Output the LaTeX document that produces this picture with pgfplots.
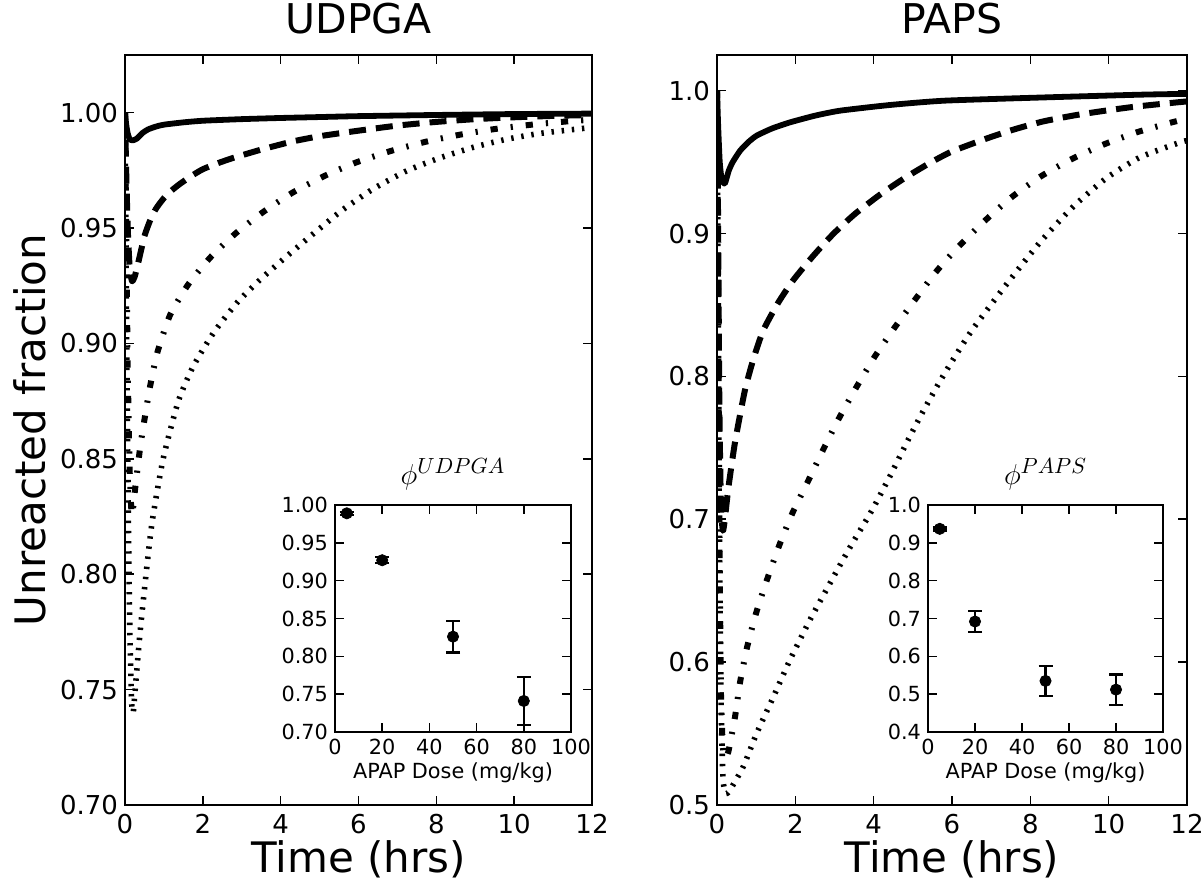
\documentclass[border=0pt]{standalone}
\usepackage{fontspec}
\setmainfont{DejaVu Sans}
\usepackage{pgfplots}
\usepackage{pgfplotstable}
\pgfplotsset{compat=1.18}

\pgfplotstableread{
t v
0 1.000
0.03 0.995
0.07 0.991
0.12 0.9885
0.2 0.9880
0.3 0.9887
0.45 0.9912
0.6 0.9928
0.8 0.9940
1.0 0.9948
1.5 0.9958
2.0 0.9965
3.0 0.9972
4.0 0.9977
5.0 0.9981
6.0 0.9985
8.0 0.9990
10.0 0.9994
12.0 0.9996
}\Aone
\pgfplotstableread{
t v
0 1.0
0.03 0.975
0.07 0.950
0.12 0.933
0.18 0.927
0.25 0.929
0.34 0.935
0.5 0.9465
0.65 0.9535
0.8 0.9585
1.0 0.9630
1.2 0.9663
1.4 0.9690
1.7 0.9725
2.0 0.9755
2.4 0.9782
2.8 0.9805
3.5 0.9840
4.3 0.9875
5.0 0.9898
6.0 0.9922
7.0 0.9944
8.0 0.9960
9.0 0.9972
10.0 0.9980
11.0 0.9986
12.0 0.9990
}\Atwo
\pgfplotstableread{
t v
0 1.0
0.03 0.95
0.07 0.89
0.12 0.845
0.17 0.826
0.21 0.829
0.26 0.837
0.39 0.855
0.5 0.867
0.64 0.881
0.83 0.8960
1.16 0.9124
1.63 0.9257
2.2 0.9374
2.85 0.9478
3.57 0.9572
4.32 0.9655
5.14 0.9727
5.95 0.9785
6.85 0.9835
7.73 0.9874
8.62 0.9905
9.5 0.9929
10.45 0.9948
11.35 0.9962
12 0.9970
}\Athree
\pgfplotstableread{
t v
0 1.0
0.03 0.93
0.07 0.85
0.12 0.78
0.17 0.745
0.21 0.740
0.257 0.749
0.385 0.7744
0.56 0.803
0.7 0.823
0.98 0.850
1.37 0.8750
1.75 0.890
2.27 0.9045
2.87 0.9175
3.47 0.9276
4.15 0.9377
4.93 0.9488
5.6 0.9580
6.38 0.9670
7.24 0.9748
8.09 0.9804
8.95 0.9850
9.81 0.9885
10.66 0.9910
11.78 0.9932
12 0.9936
}\Afour
\pgfplotstableread{
t v
0 1.0
0.03 0.975
0.07 0.950
0.12 0.938
0.2 0.935
0.3 0.944
0.4 0.950
0.59 0.958
0.8 0.964
1.01 0.9685
1.4 0.9735
1.86 0.9778
2.5 0.9825
3.14 0.9860
4.42 0.9900
5.8 0.9930
8.25 0.9952
10.8 0.9972
12 0.9978
}\Bone
\pgfplotstableread{
t v
0 1.0
0.03 0.90
0.06 0.78
0.1 0.71
0.15 0.692
0.2 0.700
0.29 0.722
0.46 0.754
0.71 0.790
0.93 0.8123
1.18 0.8322
1.56 0.8515
1.95 0.8675
2.46 0.8845
2.97 0.8998
3.52 0.9137
4.16 0.9272
4.8 0.9390
5.44 0.9495
6.0 0.9575
6.88 0.9665
7.61 0.9731
8.33 0.9785
9.14 0.9828
9.91 0.9860
10.67 0.9888
11.48 0.9911
12 0.9925
}\Btwo
\pgfplotstableread{
t v
0 1.0
0.03 0.85
0.06 0.70
0.1 0.58
0.15 0.540
0.2 0.533
0.29 0.5373
0.46 0.5617
0.59 0.5862
0.77 0.6107
1.0 0.6345
1.28 0.658
1.59 0.6818
1.92 0.704
2.33 0.727
2.71 0.7487
3.1 0.770
3.57 0.793
4.03 0.814
4.53 0.834
5.05 0.8535
5.57 0.8725
6.1 0.8890
6.8 0.9080
7.5 0.9250
8.26 0.9399
9.06 0.9522
9.86 0.9622
10.72 0.9709
11.61 0.9778
12 0.9805
}\Bthree
\pgfplotstableread{
t v
0 1.0
0.03 0.85
0.06 0.70
0.1 0.58
0.15 0.520
0.22 0.508
0.33 0.5105
0.67 0.5268
1.01 0.550
1.44 0.5757
1.86 0.6014
2.37 0.6294
2.88 0.655
3.4 0.6806
3.95 0.706
4.45 0.732
4.85 0.754
5.25 0.775
5.7 0.797
6.1 0.815
6.54 0.8335
7.4 0.8648
8.25 0.8940
9.1 0.9190
9.95 0.9390
10.8 0.9534
11.82 0.9638
12 0.9650
}\Bfour
\pgfplotstableread{
x y e
5 0.989 0.002
20 0.927 0.004
50 0.826 0.021
80 0.741 0.032
}\Ains
\pgfplotstableread{
x y e
5 0.937 0.004
20 0.692 0.028
50 0.535 0.040
80 0.512 0.040
}\Bins

\pgfplotsset{
  mainax/.style={
    scale only axis, anchor=south west,
    height=375pt,
    xmin=0, xmax=12, xtick={0,2,...,12},
    axis line style={line width=1pt},
    every tick/.style={black, line width=0.8pt},
    major tick length=4.5pt,
    tick align=inside, tick pos=both,
    tick label style={font=\fontsize{13}{15}\selectfont},
    xticklabel style={yshift=-1pt},
    /pgf/number format/assume math mode=true,
    title style={font=\fontsize{20.5}{24}\selectfont, yshift=1pt},
    xlabel style={font=\fontsize{21}{25}\selectfont, yshift=3.5pt},
    ylabel style={font=\fontsize{21}{25}\selectfont},
  },
  inax/.style={
    scale only axis, anchor=south west,
    height=113.5pt,
    xmin=0, xmax=100, xtick={0,20,...,100},
    axis background/.style={fill=white},
    axis line style={line width=1.4pt},
    every tick/.style={black, line width=0.8pt},
    major tick length=4.5pt,
    tick align=inside, tick pos=both,
    tick label style={font=\fontsize{10.4}{12}\selectfont},
    /pgf/number format/assume math mode=true,
    xlabel style={font=\fontsize{10.4}{12}\selectfont, yshift=3pt},
    title style={font=\fontsize{15.5}{18}\selectfont, yshift=-2pt},
  },
  c1/.style={black, line width=2.9pt, solid, line cap=butt, line join=round, smooth, tension=0.35},
  c2/.style={black, line width=3pt, line cap=butt, line join=round, smooth, tension=0.35, dash pattern=on 8.5pt off 5pt},
  c3/.style={black, line width=3pt, line cap=butt, line join=round, smooth, tension=0.35, dash pattern=on 3.6pt off 6.5pt on 1.1pt off 6.5pt},
  c4/.style={black, line width=2.8pt, line cap=butt, line join=round, smooth, tension=0.35, dash pattern=on 1.2pt off 3.9pt},
  inpts/.style={black, only marks, mark=*, mark size=2.8pt,
    error bars/.cd, y dir=both, y explicit,
    error bar style={line width=1.2pt},
    error mark options={rotate=90, line width=1.2pt, mark size=3.5pt}},
}

\begin{document}
\begin{tikzpicture}
\useasboundingbox (0,0) rectangle (601pt,443pt);

% ---- left main ----
\begin{axis}[mainax, at={(62.5pt,40.5pt)}, width=233.5pt,
  ymin=0.70, ymax=1.025, ytick={0.70,0.75,...,1.001},
  yticklabel style={/pgf/number format/.cd, fixed, fixed zerofill, precision=2},
  title={UDPGA}, xlabel={Time (hrs)}, ylabel={Unreacted fraction}]
\addplot[c4] table[x=t,y=v] {\Afour};
\addplot[c3] table[x=t,y=v] {\Athree};
\addplot[c2] table[x=t,y=v] {\Atwo};
\addplot[c1] table[x=t,y=v] {\Aone};
\end{axis}

% ---- right main ----
\begin{axis}[mainax, at={(358.5pt,40.5pt)}, width=235pt,
  ymin=0.5, ymax=1.025, ytick={0.5,0.6,...,1.001},
  yticklabel style={/pgf/number format/.cd, fixed, fixed zerofill, precision=1},
  title={PAPS}, xlabel={Time (hrs)}]
\addplot[c4] table[x=t,y=v] {\Bfour};
\addplot[c3] table[x=t,y=v] {\Bthree};
\addplot[c2] table[x=t,y=v] {\Btwo};
\addplot[c1] table[x=t,y=v] {\Bone};
\end{axis}

% ---- left inset ----
\begin{axis}[inax, at={(167.5pt,77pt)}, width=118pt,
  ymin=0.70, ymax=1.00, ytick={0.70,0.75,...,1.001},
  yticklabel style={/pgf/number format/.cd, fixed, fixed zerofill, precision=2},
  title={$\phi^{UDPGA}$}, xlabel={APAP Dose (mg/kg)}]
\addplot[inpts] table[x=x,y=y,y error=e] {\Ains};
\end{axis}

% ---- right inset ----
\begin{axis}[inax, at={(464pt,77pt)}, width=117.5pt,
  ymin=0.4, ymax=1.0, ytick={0.4,0.5,...,1.001},
  yticklabel style={/pgf/number format/.cd, fixed, fixed zerofill, precision=1},
  title={$\phi^{PAPS}$}, xlabel={APAP Dose (mg/kg)}]
\addplot[inpts] table[x=x,y=y,y error=e] {\Bins};
\end{axis}
\end{tikzpicture}
\end{document}
